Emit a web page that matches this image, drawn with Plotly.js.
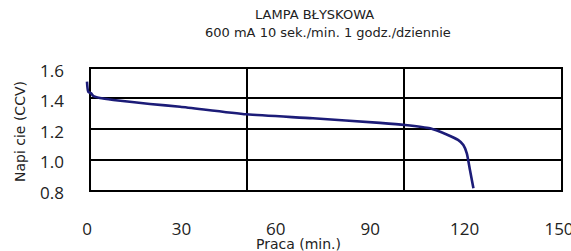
<!DOCTYPE html>
<html>
<head>
<meta charset="utf-8">
<script src="https://cdn.plot.ly/plotly-3.0.1.min.js"></script>
<style>html,body{margin:0;padding:0;background:#fff;}#chart{width:571px;height:251px;}</style>
</head>
<body>
<div id="chart"></div>
<script>
// Data
const minutes = [0, 0.4, 1.3, 2.0, 4.1, 8.4, 20, 29.6, 50.7, 71.8, 93.1, 101.1, 109.0, 114.3, 117.9, 119.6, 120.7, 121.7, 122.8];
const voltage = [1.530, 1.464, 1.454, 1.436, 1.423, 1.410, 1.384, 1.366, 1.316, 1.290, 1.260, 1.246, 1.224, 1.184, 1.148, 1.115, 1.060, 0.951, 0.831];
const xTicks = [0, 30, 60, 90, 120, 150];
const yTicks = [0.8, 1.0, 1.2, 1.4, 1.6];
const yTickText = ["0.8", "1.0", "1.2", "1.4", "1.6"];
const titleLine1 = "LAMPA BŁYSKOWA";
const titleLine2 = "600 mA 10 sek./min. 1 godz./dziennie";
const xTitle = "Praca (min.)";
const yTitle = "Napi cie (CCV)";

const FONT = "Open Sans, Noto Sans, sans-serif";
const LFONT = "DejaVu Sans, sans-serif";
const gridLine = {color: "#000", width: 2};
function hline(y) { return {type: "line", xref: "paper", yref: "paper", x0: 0.0103, x1: 0.9815, y0: y, y1: y, line: gridLine, layer: "below"}; }
function vline(x) { return {type: "line", xref: "paper", yref: "paper", x0: x, x1: x, y0: 0.0315, y1: 1.0, line: gridLine, layer: "below"}; }

const trace = {
  x: minutes, y: voltage, type: "scatter", mode: "lines",
  line: {color: "#1c1c78", width: 2.6, shape: "spline", smoothing: 0.6},
  hoverinfo: "skip"
};

const layout = {
  width: 571, height: 251,
  margin: {l: 85, r: 0, t: 68, b: 56},
  paper_bgcolor: "#fff", plot_bgcolor: "#fff",
  showlegend: false,
  font: {family: FONT, color: "#222"},
  xaxis: {
    range: [-0.636, 153.81], tickvals: xTicks, ticktext: xTicks.map(String),
    showgrid: false, zeroline: false, showline: false, ticks: "",
    tickfont: {size: 17, color: "#222", family: FONT}, ticklabelstandoff: 22,
    ticklabeloverflow: "allow", fixedrange: true
  },
  yaxis: {
    range: [0.7869, 1.6197], tickvals: yTicks, ticktext: yTickText,
    showgrid: false, zeroline: false, showline: false, ticks: "",
    tickfont: {size: 17, color: "#222", family: FONT}, ticklabelstandoff: 20, fixedrange: true
  },
  shapes: [
    {type: "rect", xref: "paper", yref: "paper", x0: 0.0103, x1: 0.9815, y0: 0.0315, y1: 1.0, line: gridLine, fillcolor: "rgba(0,0,0,0)", layer: "below"},
    hline(0.7638), hline(0.5197), hline(0.2756),
    vline(0.3333), vline(0.6564)
  ],
  annotations: [
    {text: titleLine1, xref: "paper", yref: "paper", x: 0.4722, y: 1.425, xanchor: "center", yanchor: "middle", showarrow: false, font: {size: 13, color: "#222", family: LFONT}},
    {text: titleLine2, xref: "paper", yref: "paper", x: 0.5, y: 1.283, xanchor: "center", yanchor: "middle", showarrow: false, font: {size: 13, color: "#222", family: LFONT}},
    {text: xTitle, xref: "paper", yref: "paper", x: 0.4403, y: -0.383, xanchor: "center", yanchor: "middle", showarrow: false, font: {size: 14, color: "#222", family: LFONT}},
    {text: yTitle, xref: "paper", yref: "paper", x: -0.1337, y: 0.496, xanchor: "center", yanchor: "middle", textangle: -90, showarrow: false, font: {size: 14, color: "#222", family: LFONT}}
  ]
};

Plotly.newPlot("chart", [trace], layout, {displayModeBar: false, staticPlot: true});
</script>
</body>
</html>
